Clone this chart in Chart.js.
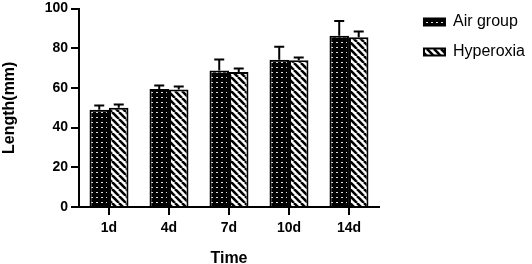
<!DOCTYPE html>
<html><head><meta charset="utf-8">
<script src="https://cdn.jsdelivr.net/npm/chart.js@4/dist/chart.umd.min.js"></script>
<style>html,body{margin:0;padding:0;background:#fff}canvas{display:block}</style>
</head><body>
<canvas id="c" width="532" height="264"></canvas>
<script>
const categories = ['1d', '4d', '7d', '10d', '14d'];
const airMeans = [49, 59.5, 68.8, 74.2, 86.3];
const airErrors = [2.2, 1.7, 5.5, 6.6, 7.5];
const hyperoxiaMeans = [50, 59.2, 68, 74, 85.5];
const hyperoxiaErrors = [1.7, 1.5, 1.8, 1.3, 3.0];
const yMin = 0, yMax = 100, yStep = 20;

const FONT = "'Liberation Sans', Arial, sans-serif";

function dotPattern() {
  const c = document.createElement('canvas');
  c.width = 5; c.height = 5;
  const x = c.getContext('2d');
  x.fillStyle = '#000'; x.fillRect(0, 0, 5, 5);
  x.fillStyle = '#e0e0e0'; x.fillRect(1, 2, 2, 1);
  return x.createPattern(c, 'repeat');
}
function stripePattern() {
  const s = 7;
  const c = document.createElement('canvas');
  c.width = s; c.height = s;
  const x = c.getContext('2d');
  x.fillStyle = '#fff'; x.fillRect(0, 0, s, s);
  x.strokeStyle = '#000'; x.lineWidth = 2.6;
  for (const o of [-s, 0, s]) {
    x.beginPath(); x.moveTo(o, 0); x.lineTo(o + s, s); x.stroke();
  }
  return x.createPattern(c, 'repeat');
}

const errorBars = {
  id: 'errorBars',
  afterDatasetsDraw(chart) {
    const ctx = chart.ctx;
    const yScale = chart.scales.y;
    chart.data.datasets.forEach((ds, di) => {
      const meta = chart.getDatasetMeta(di);
      meta.data.forEach((bar, i) => {
        const top = yScale.getPixelForValue(ds.data[i] + ds.errors[i]);
        ctx.save();
        ctx.strokeStyle = '#000';
        ctx.lineWidth = 2;
        ctx.beginPath();
        ctx.moveTo(bar.x, bar.y);
        ctx.lineTo(bar.x, top);
        ctx.moveTo(bar.x - 5, top);
        ctx.lineTo(bar.x + 5, top);
        ctx.stroke();
        ctx.restore();
      });
    });
  }
};

new Chart(document.getElementById('c'), {
  type: 'bar',
  data: {
    labels: categories,
    datasets: [
      { label: 'Air group', data: airMeans, errors: airErrors,
        backgroundColor: dotPattern(), borderColor: '#000', borderWidth: 2 },
      { label: 'Hyperoxia', data: hyperoxiaMeans, errors: hyperoxiaErrors,
        backgroundColor: stripePattern(), borderColor: '#000', borderWidth: 2 }
    ]
  },
  options: {
    responsive: false,
    animation: false,
    devicePixelRatio: 1,
    layout: { padding: { top: 0, right: -3, bottom: 0, left: 0 } },
    datasets: { bar: { categoryPercentage: 0.65, barPercentage: 1.0 } },
    plugins: {
      tooltip: { enabled: false },
      legend: {
        position: 'right',
        align: 'start',
        maxWidth: 200,
        labels: {
          boxWidth: 21, boxHeight: 7, padding: 14,
          color: '#000',
          font: { family: FONT, size: 16 }
        }
      }
    },
    scales: {
      x: {
        grid: { display: true, offset: false, drawOnChartArea: false, drawTicks: true, tickLength: 8, color: '#000', lineWidth: 2 },
        border: { display: true, color: '#000', width: 2 },
        ticks: { color: '#000', padding: 5, font: { family: FONT, size: 14, weight: 'bold' } },
        title: { display: true, text: 'Time', color: '#000', padding: { top: 0, bottom: -3 },
                 font: { family: FONT, size: 16, weight: 'bold', lineHeight: 1 } },
        afterFit(s) { s.height = 57; }
      },
      y: {
        min: yMin, max: yMax,
        grid: { display: true, drawOnChartArea: false, drawTicks: true, tickLength: 8, color: '#000', lineWidth: 2 },
        border: { display: true, color: '#000', width: 2 },
        ticks: { stepSize: yStep, color: '#000', padding: 3, font: { family: FONT, size: 14, weight: 'bold', lineHeight: 0.8 } },
        title: { display: true, text: 'Length(mm)', color: '#000', padding: { top: 2, bottom: 0 },
                 font: { family: FONT, size: 16, weight: 'bold', lineHeight: 1 } },
        afterFit(s) { s.width = 79; }
      },
      gap: {
        type: 'linear', position: 'right', display: true,
        grid: { display: false }, border: { display: false },
        ticks: { display: false },
        afterFit(s) { s.width = 31; }
      }
    }
  },
  plugins: [errorBars]
});
</script>
</body></html>
